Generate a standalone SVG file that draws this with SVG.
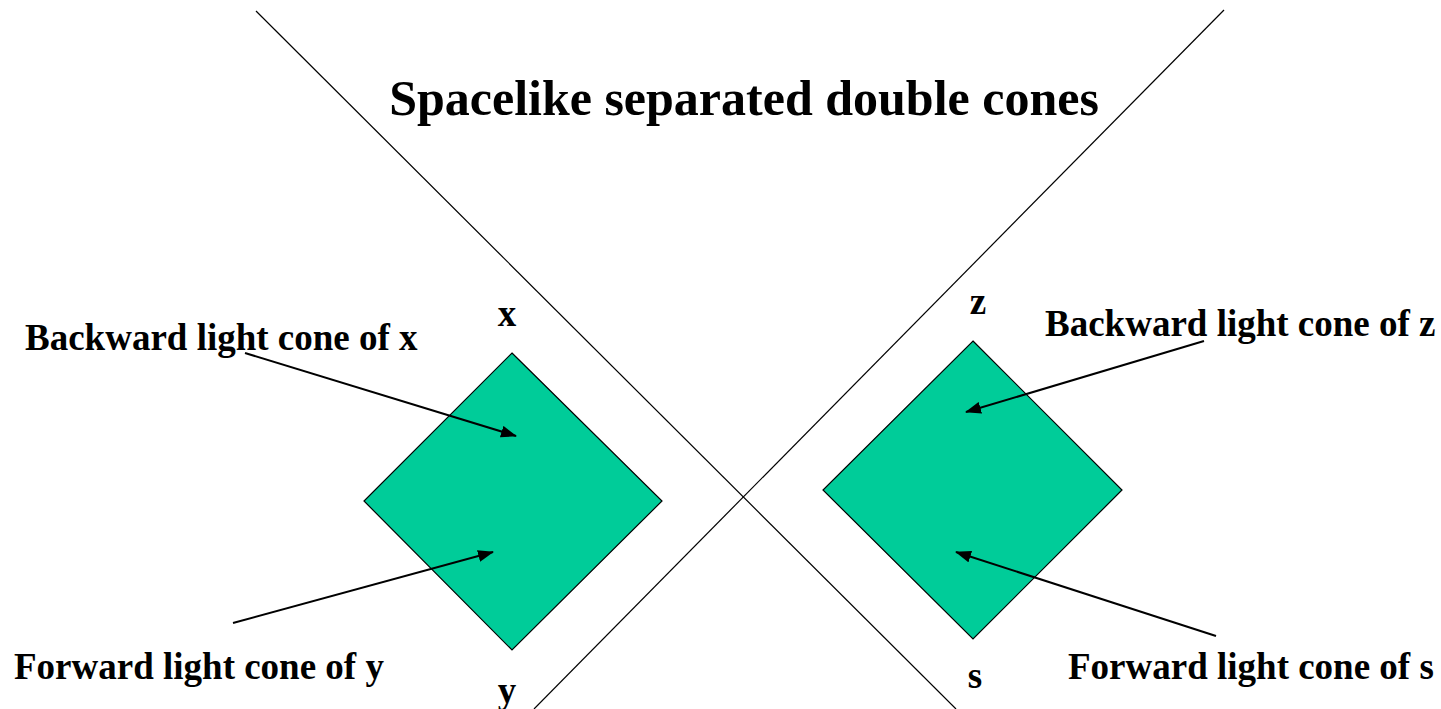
<svg xmlns="http://www.w3.org/2000/svg" width="1441" height="709" viewBox="0 0 1441 709">
<style>
.t{font-family:"Liberation Serif","Times New Roman",serif;font-weight:bold;fill:#000}
.lbl{font-size:37px}
.ttl{font-size:50px}
.cone{fill:#00CC99;stroke:#000;stroke-width:1.2}
.ln{stroke:#000;stroke-width:1.2;fill:none}
.arr{stroke:#000;stroke-width:2;fill:none;marker-end:url(#ah)}
</style>
<defs>
<marker id="ah" viewBox="0 0 16 12" refX="15" refY="6" markerWidth="16" markerHeight="12" markerUnits="userSpaceOnUse" orient="auto">
<path d="M0,0 L16,6 L0,12 Z" fill="#000"/>
</marker>
</defs>
<rect width="1441" height="709" fill="#fff"/>
<g id="lightcone-lines">
<line class="ln" x1="256" y1="11" x2="956" y2="709"/>
<line class="ln" x1="1224" y1="10" x2="534" y2="709"/>
</g>
<g id="title"><text class="t ttl" x="744" y="115" text-anchor="middle">Spacelike separated double cones</text></g>
<g id="left-cone">
<polygon class="cone" points="512,353 662,501 512,650 364,501"/>
<text class="t lbl" x="507" y="326" text-anchor="middle">x</text>
<text class="t lbl" x="507" y="703" text-anchor="middle">y</text>
</g>
<g id="right-cone">
<polygon class="cone" points="973,341 1122,490 973,639 823,490"/>
<text class="t lbl" x="978" y="314" text-anchor="middle">z</text>
<text class="t lbl" x="975" y="688" text-anchor="middle">s</text>
</g>
<g id="label-backward-x"><text class="t lbl" x="25" y="350">Backward light cone of x</text></g>
<g id="label-forward-y"><text class="t lbl" x="14" y="679">Forward light cone of y</text></g>
<g id="label-backward-z"><text class="t lbl" x="1045" y="336">Backward light cone of z</text></g>
<g id="label-forward-s"><text class="t lbl" x="1068" y="679">Forward light cone of s</text></g>
<g id="connectors">
<line class="arr" x1="245" y1="353" x2="516" y2="436"/>
<line class="arr" x1="233" y1="623" x2="493" y2="552"/>
<line class="arr" x1="1204" y1="341" x2="966" y2="412"/>
<line class="arr" x1="1216" y1="636" x2="956" y2="552"/>
</g>
</svg>
